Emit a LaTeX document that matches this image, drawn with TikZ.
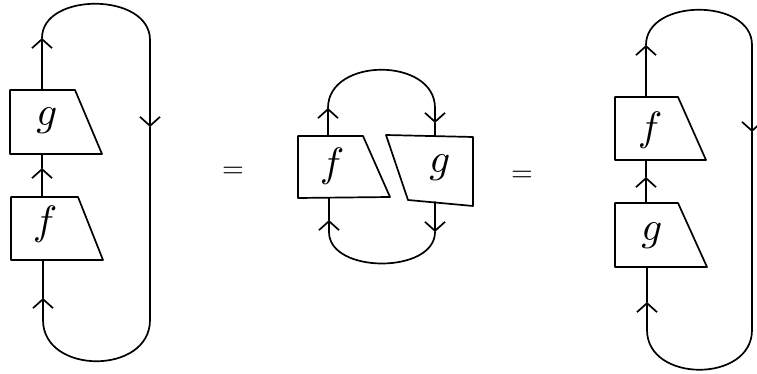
\documentclass[tikz,border=0pt]{standalone}
\usetikzlibrary{arrows.meta}
\tikzset{
  wire/.style={line width=1.7pt, line cap=round, line join=round},
  tipped/.style={wire, -{Straight Barb[length=9pt,width=20pt]}},
  boxline/.style={line width=1.7pt, line join=round},
  lab/.style={inner sep=0pt, scale=4.1, transform shape},
  eqsign/.style={inner sep=0pt, scale=2.8, transform shape},
}
\begin{document}
\begin{tikzpicture}[x=1pt,y=-1pt]
\clip (0,0) rectangle (757,374);

% ---------- left diagram ----------
\draw[boxline] (10,90) -- (75,90) -- (102,154) -- (10,154) -- cycle;
\draw[boxline] (11,197) -- (78,197) -- (103,260) -- (11,260) -- cycle;
\node[lab] (gL) at (47,121) {$g$};
\node[lab] (fL) at (45,224) {$f$};
\coordinate (gLtop) at (42,90);
\coordinate (gLbot) at (42,154);
\coordinate (fLtop) at (42,197);
\coordinate (fLbot) at (43,260);
\coordinate (aL1) at (42,38);
\coordinate (aL2) at (150,127);
\coordinate (aL3) at (43,298);
\coordinate (aL4) at (42,168);
\draw[tipped] (gLtop) -- (aL1);
\draw[tipped] (aL1) .. controls (42,-8) and (150,-8) .. (150,40) -- (aL2);
\draw[tipped] (aL2) -- (150,320) .. controls (150,375) and (43,375) .. (43,320) -- (aL3);
\draw[wire] (aL3) -- (fLbot);
\draw[tipped] (fLtop) -- (aL4);
\draw[wire] (aL4) -- (gLbot);

\node[eqsign] (eq1) at (233,172) {$=$};

% ---------- middle diagram ----------
\draw[boxline] (298,136) -- (363,136) -- (390,197) -- (298,198) -- cycle;
\draw[boxline] (386,135) -- (473,137) -- (473,206) -- (408,200) -- cycle;
\node[lab] (fM) at (332,166) {$f$};
\node[lab] (gM) at (440,168) {$g$};
\coordinate (fMtop) at (328,136);
\coordinate (fMbot) at (329,198);
\coordinate (gMtop) at (435,136);
\coordinate (gMbot) at (435,202);
\coordinate (aM1) at (328,108);
\coordinate (aM2) at (435,123);
\coordinate (aM3) at (435,232);
\coordinate (aM4) at (329,220);
\draw[tipped] (fMtop) -- (aM1);
\draw[tipped] (aM1) .. controls (328,57) and (435,57) .. (435,108) -- (aM2);
\draw[wire] (aM2) -- (gMtop);
\draw[tipped] (gMbot) -- (aM3);
\draw[tipped] (aM3) .. controls (435,274) and (329,274) .. (329,232) -- (aM4);
\draw[wire] (aM4) -- (fMbot);

\node[eqsign] (eq2) at (522,176) {$=$};

% ---------- right diagram ----------
\draw[boxline] (615,97) -- (678,97) -- (706,160) -- (615,160) -- cycle;
\draw[boxline] (615,203) -- (678,203) -- (707,267) -- (615,267) -- cycle;
\node[lab] (fR) at (650,130) {$f$};
\node[lab] (gR) at (652,236) {$g$};
\coordinate (fRtop) at (646,97);
\coordinate (fRbot) at (646,160);
\coordinate (gRtop) at (646,203);
\coordinate (gRbot) at (647,267);
\coordinate (aR1) at (646,45);
\coordinate (aR2) at (752,132);
\coordinate (aR3) at (647,302);
\coordinate (aR4) at (646,177);
\draw[tipped] (fRtop) -- (aR1);
\draw[tipped] (aR1) .. controls (646,-2) and (752,-2) .. (752,45) -- (aR2);
\draw[tipped] (aR2) -- (752,330) .. controls (752,383) and (647,383) .. (647,330) -- (aR3);
\draw[wire] (aR3) -- (gRbot);
\draw[tipped] (gRtop) -- (aR4);
\draw[wire] (aR4) -- (fRbot);
\end{tikzpicture}
\end{document}
